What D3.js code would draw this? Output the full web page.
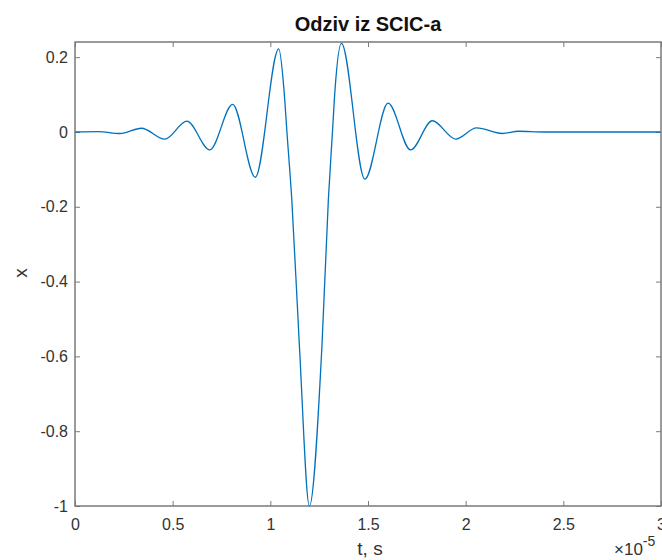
<!DOCTYPE html>
<html>
<head>
<meta charset="utf-8">
<script src="https://cdn.jsdelivr.net/npm/d3@7"></script>
<style>
  body { margin: 0; background: #fff; }
  svg { display: block; font-family: "Liberation Sans", Arial, sans-serif; }
</style>
</head>
<body>
<script>
// time in units of 1e-5 s
var tVals = [0, 0.12, 0.23, 0.34, 0.46, 0.573, 0.69, 0.807, 0.923, 1.043,
             1.070, 1.085, 1.110, 1.149, 1.2, 1.264, 1.297, 1.318, 1.331, 1.364,
             1.484, 1.603, 1.718, 1.829, 1.949, 2.056, 2.188, 2.27, 2.4, 3];
var xVals = [0, 0.001, -0.004, 0.010, -0.019, 0.029, -0.048, 0.074, -0.121, 0.222,
             0.112, 0, -0.182, -0.574, -1, -0.574, -0.182, 0, 0.112, 0.237,
             -0.126, 0.077, -0.048, 0.030, -0.019, 0.011, -0.004, 0.002, 0, 0];

var xTicks = [0, 0.5, 1, 1.5, 2, 2.5, 3];
var yTicks = [-1, -0.8, -0.6, -0.4, -0.2, 0, 0.2];
var xLim = [0, 3],
    yLim = [-1, 0.2406];

var width = 662, height = 560,
    margin = {top: 42, right: 1, bottom: 54, left: 75},
    w = width - margin.left - margin.right,
    h = height - margin.top - margin.bottom;

var svg = d3.select("body").append("svg")
    .attr("width", width)
    .attr("height", height);

var g = svg.append("g")
    .attr("transform", "translate(" + margin.left + "," + margin.top + ")");

var x = d3.scaleLinear().domain(xLim).range([0, w]);
var y = d3.scaleLinear().domain(yLim).range([h, 0]);

var axisColor = "#7a7a7a";
var fmt = function(d) { return String(d); };

// axes, ticks pointing inward on all four sides
var axBottom = g.append("g")
    .attr("transform", "translate(0," + h + ")")
    .call(d3.axisBottom(x).tickValues(xTicks).tickFormat(fmt).tickSizeInner(-5).tickSizeOuter(0).tickPadding(12));
var axTop = g.append("g")
    .call(d3.axisTop(x).tickValues(xTicks).tickFormat("").tickSizeInner(-5).tickSizeOuter(0));
var axLeft = g.append("g")
    .call(d3.axisLeft(y).tickValues(yTicks).tickFormat(fmt).tickSizeInner(-5).tickSizeOuter(0).tickPadding(7));
var axRight = g.append("g")
    .attr("transform", "translate(" + w + ",0)")
    .call(d3.axisRight(y).tickValues(yTicks).tickFormat("").tickSizeInner(-5).tickSizeOuter(0));

[axBottom, axTop, axLeft, axRight].forEach(function(a) {
    a.select(".domain").remove();
    a.selectAll(".tick line").attr("stroke", axisColor).attr("stroke-width", 1);
    a.selectAll(".tick text").attr("fill", "#333").style("font-size", "16px");
});
axBottom.selectAll(".tick text").attr("dy", "0.72em");

// the signal
var line = d3.line()
    .curve(d3.curveMonotoneX)
    .x(function(d) { return x(d[0]); })
    .y(function(d) { return y(d[1]); });

g.append("path")
    .datum(d3.zip(tVals, xVals))
    .attr("fill", "none")
    .attr("stroke", "#0072BD")
    .attr("stroke-width", 1.3)
    .attr("stroke-linejoin", "round")
    .attr("d", line);

// box
g.append("rect")
    .attr("width", w)
    .attr("height", h)
    .attr("fill", "none")
    .attr("stroke", axisColor)
    .attr("stroke-width", 1.5);

// title and labels
svg.append("text")
    .attr("x", margin.left + w / 2)
    .attr("y", 31)
    .attr("text-anchor", "middle")
    .style("font-size", "20px")
    .style("font-weight", "bold")
    .attr("fill", "#111")
    .text("Odziv iz SCIC-a");

svg.append("text")
    .attr("x", 370)
    .attr("y", 555)
    .attr("text-anchor", "middle")
    .style("font-size", "19px")
    .attr("fill", "#333")
    .text("t, s");

svg.append("text")
    .attr("transform", "translate(27,273)rotate(-90)")
    .attr("text-anchor", "middle")
    .style("font-size", "19px")
    .attr("fill", "#333")
    .text("x");

var expo = svg.append("text")
    .attr("x", 614)
    .attr("y", 555)
    .style("font-size", "17px")
    .attr("fill", "#333");
expo.append("tspan").text("\u00d710");
expo.append("tspan").attr("dy", -9).style("font-size", "14px").text("-5");
</script>
</body>
</html>
